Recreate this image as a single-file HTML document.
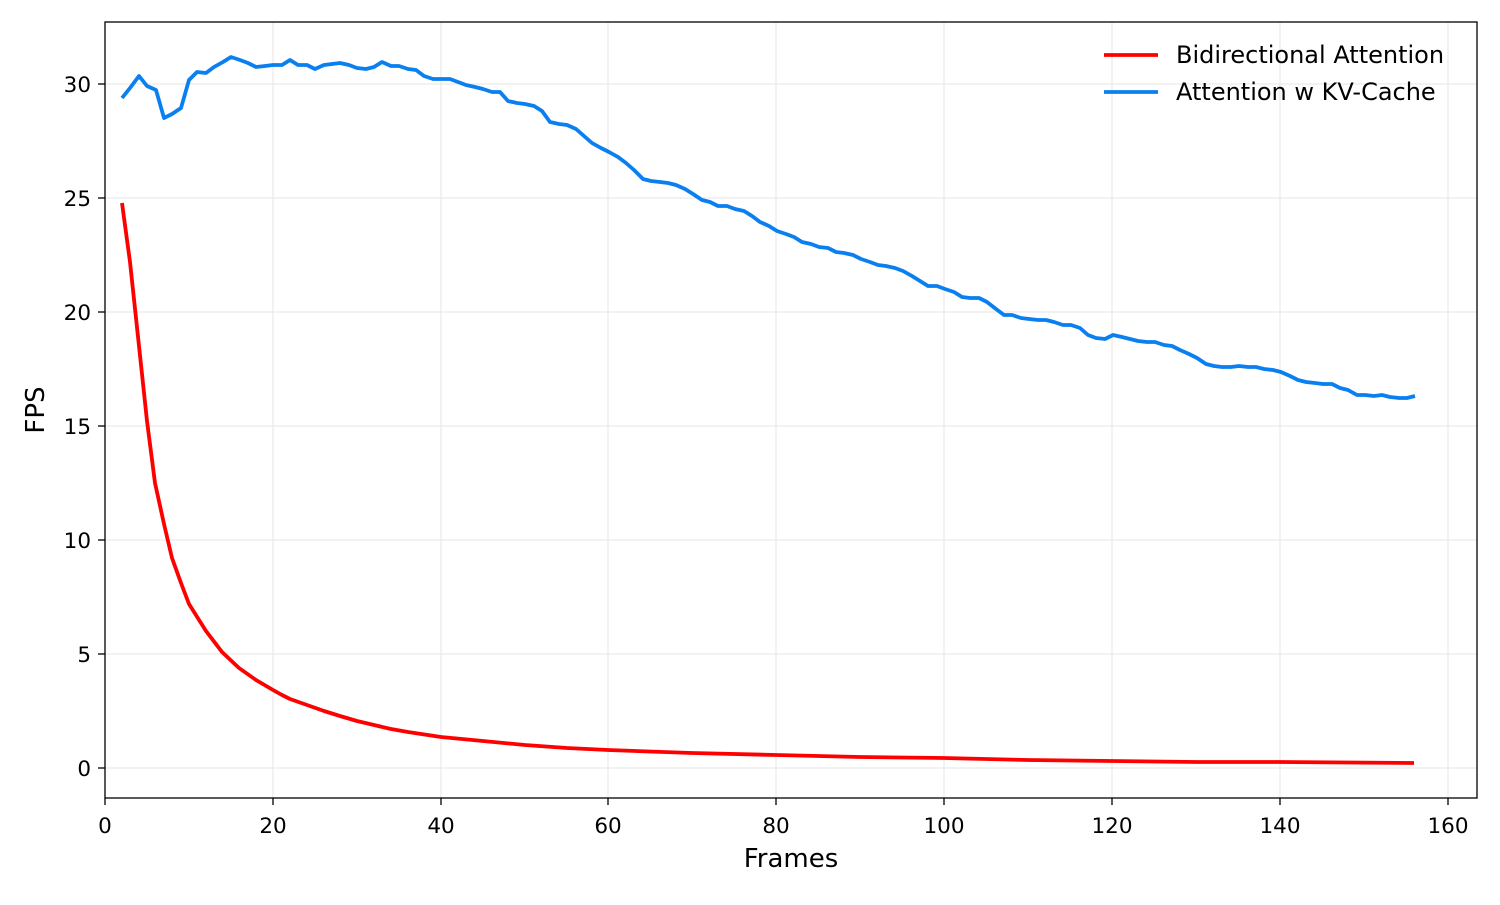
<!DOCTYPE html>
<html><head><meta charset="utf-8"><style>
body{margin:0;background:#fff}
svg text{font-family:"DejaVu Sans","Liberation Sans",sans-serif;fill:#000}
</style></head><body>
<svg width="1500" height="900" viewBox="0 0 1500 900">
<rect width="1500" height="900" fill="#fff"/>
<g stroke="#e6e6e6" stroke-width="1">
<line x1="105" x2="105" y1="22" y2="798"/>
<line x1="273" x2="273" y1="22" y2="798"/>
<line x1="441" x2="441" y1="22" y2="798"/>
<line x1="608" x2="608" y1="22" y2="798"/>
<line x1="776" x2="776" y1="22" y2="798"/>
<line x1="944" x2="944" y1="22" y2="798"/>
<line x1="1112" x2="1112" y1="22" y2="798"/>
<line x1="1280" x2="1280" y1="22" y2="798"/>
<line x1="1448" x2="1448" y1="22" y2="798"/>
<line x1="105" x2="1477" y1="768" y2="768"/>
<line x1="105" x2="1477" y1="654" y2="654"/>
<line x1="105" x2="1477" y1="540" y2="540"/>
<line x1="105" x2="1477" y1="426" y2="426"/>
<line x1="105" x2="1477" y1="312" y2="312"/>
<line x1="105" x2="1477" y1="198" y2="198"/>
<line x1="105" x2="1477" y1="84" y2="84"/>
</g>
<polyline fill="none" stroke="#ff0000" stroke-width="3.8" stroke-linejoin="round" points="122,203 130,262 139,346 147,421 155,483 164,524 172,558 181,583 189,604 206,631 222,652 239,668 256,680 273,690 282,695 290,699 307,705 324,711 340,716 357,721 374,725 391,729 408,732 441,737 483,741 525,745 567,748 608,750 692,753 776,755 860,757 944,758 1028,760 1112,761 1196,762 1280,762 1414,763"/>
<polyline fill="none" stroke="#0a7ff0" stroke-width="3.8" stroke-linejoin="round" points="122,98 130,88 139,76 147,86 156,90 164,118 172,114 181,108 189,80 197,72 206,73 214,67 223,62 231,57 240,60 248,63 256,67 265,66 273,65 282,65 290,60 298,65 307,65 315,69 324,65 332,64 340,63 349,65 357,68 366,69 374,67 382,62 391,66 399,66 408,69 416,70 424,76 433,79 441,79 450,79 458,82 466,85 475,87 483,89 492,92 500,92 508,101 517,103 525,104 534,106 542,111 550,122 559,124 567,125 576,129 584,136 592,143 601,148 609,152 618,157 626,163 634,170 643,179 651,181 660,182 668,183 676,185 685,189 693,194 702,200 710,202 718,206 727,206 735,209 744,211 752,216 760,222 769,226 777,231 786,234 794,237 802,242 811,244 819,247 828,248 836,252 844,253 853,255 861,259 870,262 878,265 886,266 895,268 903,271 912,276 920,281 928,286 937,286 945,289 954,292 962,297 970,298 979,298 987,302 996,309 1004,315 1012,315 1021,318 1029,319 1038,320 1046,320 1054,322 1063,325 1071,325 1080,328 1088,335 1096,338 1105,339 1113,335 1122,337 1130,339 1138,341 1147,342 1155,342 1164,345 1172,346 1180,350 1189,354 1197,358 1206,364 1214,366 1222,367 1231,367 1239,366 1248,367 1256,367 1264,369 1273,370 1281,372 1290,376 1298,380 1306,382 1315,383 1323,384 1332,384 1340,388 1348,390 1357,395 1365,395 1374,396 1382,395 1390,397 1399,398 1407,398 1415,396"/>
<rect x="105" y="22" width="1372" height="776" fill="none" stroke="#000" stroke-width="1.3"/>
<g stroke="#000" stroke-width="1.3">
<line x1="105" x2="105" y1="798" y2="805"/><line x1="273" x2="273" y1="798" y2="805"/><line x1="441" x2="441" y1="798" y2="805"/><line x1="608" x2="608" y1="798" y2="805"/><line x1="776" x2="776" y1="798" y2="805"/><line x1="944" x2="944" y1="798" y2="805"/><line x1="1112" x2="1112" y1="798" y2="805"/><line x1="1280" x2="1280" y1="798" y2="805"/><line x1="1448" x2="1448" y1="798" y2="805"/>
<line x1="98" x2="105" y1="768" y2="768"/><line x1="98" x2="105" y1="654" y2="654"/><line x1="98" x2="105" y1="540" y2="540"/><line x1="98" x2="105" y1="426" y2="426"/><line x1="98" x2="105" y1="312" y2="312"/><line x1="98" x2="105" y1="198" y2="198"/><line x1="98" x2="105" y1="84" y2="84"/>
</g>
<g font-size="21.5" text-anchor="middle">
<text x="105" y="833">0</text><text x="273" y="833">20</text><text x="441" y="833">40</text><text x="608" y="833">60</text><text x="776" y="833">80</text><text x="944" y="833">100</text><text x="1112" y="833">120</text><text x="1280" y="833">140</text><text x="1448" y="833">160</text>
</g>
<g font-size="21.5" text-anchor="end">
<text x="91" y="776">0</text><text x="91" y="662">5</text><text x="91" y="548">10</text><text x="91" y="434">15</text><text x="91" y="320">20</text><text x="91" y="206">25</text><text x="91" y="92">30</text>
</g>
<text x="791" y="867" font-size="26" text-anchor="middle">Frames</text>
<text transform="translate(44,410) rotate(-90)" font-size="26" text-anchor="middle">FPS</text>
<line x1="1104" x2="1158" y1="55" y2="55" stroke="#ff0000" stroke-width="3.8"/>
<line x1="1104" x2="1158" y1="92" y2="92" stroke="#0a7ff0" stroke-width="3.8"/>
<text x="1176" y="63" font-size="24">Bidirectional Attention</text>
<text x="1176" y="100" font-size="24">Attention w KV-Cache</text>
</svg>
</body></html>
